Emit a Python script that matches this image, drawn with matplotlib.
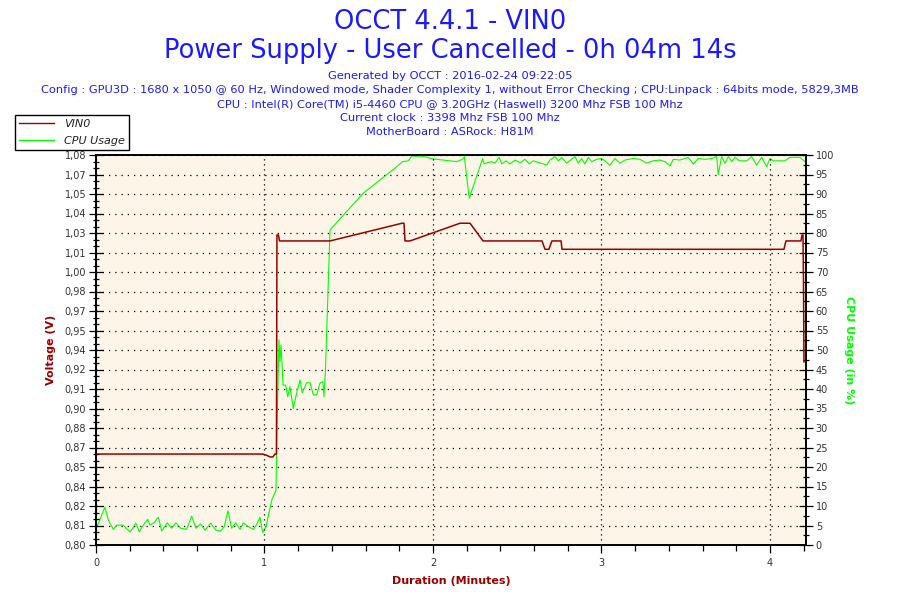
import numpy as np
import matplotlib
matplotlib.use("Agg")
import matplotlib.pyplot as plt
from matplotlib.lines import Line2D
from matplotlib.ticker import MultipleLocator, FixedLocator

# VIN0 voltage (minutes, volts)
vin_t = [0.000, 0.991, 1.015, 1.033, 1.050, 1.062, 1.071, 1.074, 1.083, 1.089,
         1.389, 1.816, 1.828, 1.834, 1.864, 2.160, 2.220, 2.297, 2.647, 2.665,
         2.688, 2.706, 2.760, 2.766, 4.083, 4.095, 4.184, 4.190, 4.196, 4.199,
         4.202]
vin_v = [0.8653, 0.8653, 0.8643, 0.8632, 0.8632, 0.8653, 0.8653, 1.0226, 1.0226, 1.0183,
         1.0183, 1.0310, 1.0310, 1.0183, 1.0183, 1.0310, 1.0310, 1.0183, 1.0183, 1.0123,
         1.0123, 1.0183, 1.0183, 1.0123, 1.0123, 1.0183, 1.0183, 1.0226, 1.0226, 0.9900,
         0.9314]

# CPU usage (minutes, %)
cpu_t = [0.008, 0.053, 0.073, 0.103, 0.123, 0.162, 0.202, 0.237, 0.257, 0.281,
         0.307, 0.320, 0.344, 0.370, 0.390, 0.423, 0.449, 0.475, 0.503, 0.538,
         0.568, 0.593, 0.621, 0.647, 0.681, 0.712, 0.740, 0.761, 0.783, 0.805,
         0.829, 0.855, 0.874, 0.904, 0.934, 0.954, 0.973, 0.989, 1.009, 1.043,
         1.068, 1.076, 1.086, 1.092, 1.098, 1.106, 1.110, 1.126, 1.138, 1.151,
         1.171, 1.191, 1.211, 1.224, 1.250, 1.270, 1.290, 1.310, 1.329, 1.347,
         1.353, 1.361, 1.389, 1.586, 1.785, 1.820, 1.853, 1.874, 1.935, 2.000,
         2.141, 2.176, 2.186, 2.215, 2.295, 2.303, 2.319, 2.348, 2.368, 2.392,
         2.408, 2.433, 2.457, 2.487, 2.516, 2.546, 2.572, 2.595, 2.635, 2.675,
         2.694, 2.724, 2.744, 2.764, 2.793, 2.823, 2.843, 2.862, 2.882, 2.902,
         2.922, 2.942, 2.972, 3.001, 3.021, 3.050, 3.080, 3.110, 3.139, 3.189,
         3.228, 3.268, 3.307, 3.347, 3.377, 3.407, 3.426, 3.466, 3.515, 3.545,
         3.574, 3.614, 3.654, 3.684, 3.693, 3.713, 3.733, 3.753, 3.773, 3.792,
         3.818, 3.862, 3.891, 3.921, 3.951, 3.980, 4.000, 4.020, 4.089, 4.119,
         4.178, 4.208]
cpu_pct = [4.9, 9.7, 6.4, 4.0, 5.1, 5.1, 3.3, 5.6, 3.4, 5.1,
           6.6, 5.1, 5.7, 7.1, 3.6, 5.7, 4.3, 5.7, 4.3, 4.0,
           7.4, 4.3, 5.4, 3.8, 5.6, 3.8, 3.6, 4.7, 8.8, 4.3,
           5.7, 4.0, 5.7, 4.7, 4.0, 5.3, 7.1, 3.2, 4.7, 11.5,
           14.0, 33.8, 52.6, 47.0, 51.3, 44.9, 41.0, 41.0, 38.0, 40.6,
           35.0, 39.0, 42.3, 39.0, 41.6, 41.6, 38.5, 38.5, 41.5, 41.9,
           38.0, 44.0, 80.8, 90.2, 97.0, 98.3, 98.5, 99.7, 99.7, 99.0,
           98.3, 98.9, 99.6, 88.9, 99.1, 97.7, 98.0, 98.3, 97.9, 99.4,
           97.7, 98.5, 97.7, 98.7, 98.0, 98.9, 97.7, 98.5, 98.0, 97.4,
           98.7, 99.6, 98.5, 99.4, 97.9, 98.9, 99.6, 97.9, 99.1, 97.7,
           99.4, 98.3, 98.9, 99.1, 98.5, 97.4, 99.1, 97.9, 98.7, 99.1,
           98.9, 97.9, 98.5, 98.7, 98.3, 97.2, 98.9, 98.7, 99.4, 97.7,
           99.1, 98.9, 99.1, 99.6, 95.0, 99.6, 97.9, 99.6, 98.3, 99.4,
           98.5, 98.5, 99.6, 97.4, 99.4, 97.0, 99.1, 98.5, 98.5, 99.4,
           99.4, 98.3]

volt_labels = ["0,80", "0,81", "0,82", "0,84", "0,85", "0,87", "0,88", "0,90",
               "0,91", "0,92", "0,94", "0,95", "0,97", "0,98", "1,00", "1,01",
               "1,03", "1,04", "1,05", "1,07", "1,08"]

title_lines = ["OCCT 4.4.1 - VIN0",
               "Power Supply - User Cancelled - 0h 04m 14s"]
info_lines = [
    "Generated by OCCT : 2016-02-24 09:22:05",
    "Config : GPU3D : 1680 x 1050 @ 60 Hz, Windowed mode, Shader Complexity 1, "
    "without Error Checking ; CPU:Linpack : 64bits mode, 5829,3MB",
    "CPU : Intel(R) Core(TM) i5-4460 CPU @ 3.20GHz (Haswell) 3200 Mhz FSB 100 Mhz",
    "Current clock : 3398 Mhz FSB 100 Mhz",
    "MotherBoard : ASRock: H81M",
]

red = "#990000"
green = "#00ff00"
blue = "#1a1aff"
tick_col = "#333333"

fig = plt.figure(figsize=(9, 6), dpi=100)
ax = fig.add_axes([96 / 900, 1 - 545 / 600, 710 / 900, 390 / 600])
ax2 = ax.twinx()

ax2.plot(cpu_t, cpu_pct, color=green, linewidth=0.8)
ax.plot(vin_t, vin_v, color=red, linewidth=1.1)
ax.set_zorder(ax2.get_zorder() + 1)
ax.patch.set_visible(False)
ax2.patch.set_visible(True)
ax2.set_facecolor("#fdf6e8")

ax.set_xlim(0, 4.214)
ax.set_ylim(0.80, 1.08)
ax2.set_ylim(0, 100)

ax.xaxis.set_major_locator(MultipleLocator(1))
ax.xaxis.set_minor_locator(MultipleLocator(0.2))
ax.set_yticks(np.linspace(0.80, 1.08, 21))
ax.set_yticklabels(volt_labels)
ax.yaxis.set_minor_locator(FixedLocator(np.linspace(0.80, 1.08, 61)))
ax2.yaxis.set_major_locator(MultipleLocator(5))
ax2.yaxis.set_minor_locator(MultipleLocator(2.5))

ax.tick_params(axis="x", which="major", direction="out", length=6,
               labelsize=7, colors=tick_col, pad=3)
ax.tick_params(axis="x", which="minor", direction="out", length=4)
ax.tick_params(axis="y", which="major", direction="inout", length=10,
               labelsize=7, colors=tick_col, pad=2)
ax.tick_params(axis="y", which="minor", direction="inout", length=5)
ax2.tick_params(axis="y", which="major", direction="inout", length=10,
                labelsize=7, colors=tick_col, pad=2)
ax2.tick_params(axis="y", which="minor", direction="inout", length=5)
for a in (ax, ax2):
    a.tick_params(which="both", color="black", width=0.9)

ax2.grid(True, axis="y", which="major", color="black", linestyle=(0, (1, 4)),
         linewidth=0.9)
ax.grid(True, axis="x", which="major", color="black", linestyle=(0, (1, 3)),
        linewidth=0.9)

for s in ("top", "right", "left", "bottom"):
    ax.spines[s].set_linewidth(1.2)
    ax2.spines[s].set_linewidth(1.2)

ax.set_xlabel("Duration (Minutes)", color=red, fontsize=8, fontweight="bold",
              labelpad=6)
ax.set_ylabel("Voltage (V)", color=red, fontsize=8, fontweight="bold",
              labelpad=6)
ax2.set_ylabel("CPU Usage (in %)", color=green, fontsize=8, fontweight="bold",
               rotation=-90, labelpad=14)

fig.text(0.5, 1 - 22 / 600, title_lines[0], ha="center", va="center",
         color=blue, fontsize=18.5)
fig.text(0.5, 1 - 51 / 600, title_lines[1], ha="center", va="center",
         color=blue, fontsize=18.5)
for i, line in enumerate(info_lines):
    fig.text(0.5, 1 - (76 + 14 * i) / 600, line, ha="center", va="center",
             color=blue, fontsize=8.2)

handles = [Line2D([], [], color=red, linewidth=1),
           Line2D([], [], color=green, linewidth=1)]
leg = fig.legend(handles, ["VIN0", "CPU Usage"], loc="upper left",
                 bbox_to_anchor=(15 / 900, 1 - 115 / 600), fancybox=False,
                 edgecolor="black", framealpha=1, fontsize=8,
                 handlelength=3.2, borderpad=0.35, labelspacing=0.65,
                 borderaxespad=0, handletextpad=0.9)
leg.get_frame().set_linewidth(1.0)
for txt in leg.get_texts():
    txt.set_fontstyle("italic")
    txt.set_color("#222222")

fig.savefig("out.png", dpi=100)
